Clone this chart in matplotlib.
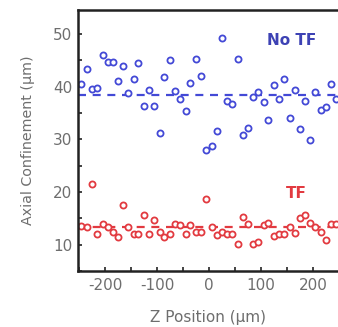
import numpy as np
import matplotlib
matplotlib.use('Agg')
import matplotlib.pyplot as plt
from matplotlib.ticker import MultipleLocator

# z positions shared by both series (um)
z_pos = [-246, -235, -226, -215, -205, -195, -185, -176, -166, -156,
         -145, -136, -125, -115, -106, -95, -86, -76, -66, -55,
         -45, -36, -26, -16, -6, 5, 15, 25, 35, 44,
         55, 65, 75, 85, 95, 105, 114, 124, 134, 145,
         155, 165, 175, 184, 194, 204, 215, 224, 235, 245]

# axial confinement without TF
no_tf = [40.5, 43.4, 39.5, 39.8, 46.0, 44.6, 44.6, 41.1, 43.9, 38.7,
         41.5, 44.4, 36.3, 39.3, 36.4, 31.2, 41.9, 45.1, 39.1, 37.6,
         35.3, 40.6, 45.3, 42.0, 28.0, 28.8, 31.5, 49.2, 37.3, 36.7,
         45.3, 30.9, 32.1, 38.0, 38.9, 37.1, 33.6, 40.3, 37.6, 41.5,
         34.0, 39.3, 32.0, 37.3, 29.9, 38.9, 35.5, 36.2, 40.5, 37.7]

# axial confinement with TF
tf = [13.5, 13.3, 21.5, 12.1, 14.0, 13.3, 12.5, 11.4, 17.5, 13.4,
      12.0, 12.0, 15.6, 12.0, 14.7, 12.4, 11.5, 12.0, 14.0, 13.8,
      12.0, 13.8, 12.5, 12.4, 18.7, 13.3, 11.8, 12.4, 12.0, 12.0,
      10.2, 15.2, 13.9, 10.2, 10.5, 13.8, 14.2, 11.6, 12.1, 12.1,
      13.3, 12.3, 15.0, 15.6, 14.2, 13.3, 12.5, 10.9, 14.0, 14.0]

no_tf_mean = 38.4
tf_mean = 13.3

blue = '#4349d6'
red = '#e23a40'
grey = '#6e6e6e'

plt.rcParams['font.family'] = ['DejaVu Sans']
plt.rcParams['axes.unicode_minus'] = False

fig = plt.figure(figsize=(3.38, 3.27), dpi=100)
ax = fig.add_axes([0.231, 0.171, 0.769, 0.798])

ax.axhline(no_tf_mean, color=blue, lw=1.6, dashes=(3.6, 3.0))
ax.axhline(tf_mean, color=red, lw=1.6, dashes=(3.6, 3.0))

ax.plot(z_pos, no_tf, 'o', ms=4.4, mfc='white', mec=blue, mew=1.3, ls='none')
ax.plot(z_pos, tf, 'o', ms=4.4, mfc='white', mec=red, mew=1.3, ls='none')

ax.text(0.823, 0.885, 'No TF', transform=ax.transAxes, color='#3d42b4',
        fontsize=11, fontweight='bold', ha='center', va='center')
ax.text(0.838, 0.299, 'TF', transform=ax.transAxes, color=red,
        fontsize=11, fontweight='bold', ha='center', va='center')

ax.set_xlim(-252, 248)
ax.set_ylim(5, 54.5)
ax.xaxis.set_major_locator(MultipleLocator(100))
ax.xaxis.set_minor_locator(MultipleLocator(50))
ax.yaxis.set_major_locator(MultipleLocator(10))
ax.yaxis.set_minor_locator(MultipleLocator(5))
ax.tick_params(which='both', direction='in', length=3, width=1.2,
               color='#222222', labelsize=11, labelcolor=grey)
ax.tick_params(axis='y', pad=4)
ax.tick_params(axis='x', pad=5)

for side in ['left', 'bottom', 'top']:
    ax.spines[side].set_linewidth(1.8)
    ax.spines[side].set_color('#222222')
ax.spines['right'].set_visible(False)

ax.set_xlabel('Z Position (µm)', fontsize=11, color=grey, labelpad=12)
ax.set_ylabel('Axial Confinement (µm)', fontsize=10.3, color=grey, labelpad=13)

fig.savefig('out.png', dpi=100)
